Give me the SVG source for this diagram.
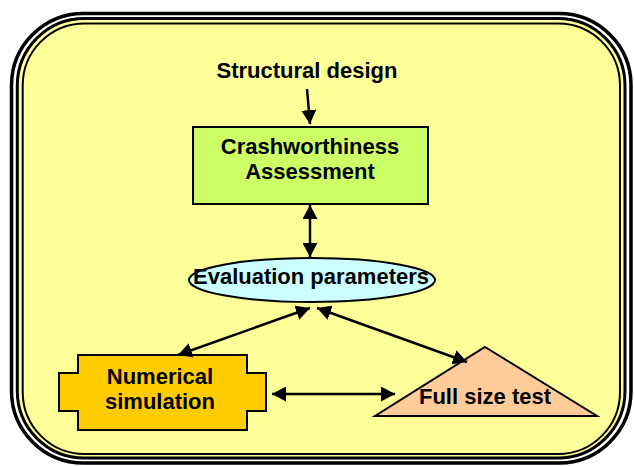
<svg xmlns="http://www.w3.org/2000/svg" width="634" height="466" viewBox="0 0 634 466">
<defs>
<style>
.t{font-family:"Liberation Sans",Arial,sans-serif;font-weight:bold;font-size:22px;fill:#000;text-anchor:middle}
.c{stroke:#000;stroke-width:2.5;fill:none}
.n{stroke:#000;stroke-width:2}
</style>
<marker id="ah" viewBox="0 0 14 15" refX="14" refY="7.5" markerWidth="14" markerHeight="15" markerUnits="userSpaceOnUse" orient="auto-start-reverse">
<path d="M0,0 L14,7.5 L0,15 z" fill="#000"/>
</marker>
</defs>
<rect width="634" height="466" fill="#fff"/>
<g id="frame">
<rect x="11.5" y="13.5" width="619.5" height="449.5" rx="72" fill="#fff" stroke="#000" stroke-width="3.5"/>
<rect x="17.3" y="18.5" width="607.7" height="439.5" rx="67" fill="#FFFF99" stroke="#000" stroke-width="3"/>
<rect x="22.7" y="23.5" width="597.3" height="430.5" rx="62" fill="none" stroke="#000" stroke-width="2"/>
</g>
<g id="structural-design">
<text class="t" x="307" y="78">Structural design</text>
</g>
<g id="crashworthiness">
<rect class="n" x="193" y="127" width="235" height="77" fill="#CCFF66"/>
<text class="t" x="310" y="154">Crashworthiness</text>
<text class="t" x="310" y="179">Assessment</text>
</g>
<g id="evaluation">
<ellipse class="n" cx="312" cy="280" rx="123" ry="22" fill="#CCFFFF"/>
<text class="t" x="311" y="284">Evaluation parameters</text>
</g>
<g id="numerical">
<path class="n" d="M78,355 H247 V373 H266 V411 H247 V430 H78 V411 H59 V373 H78 Z" fill="#FFCC00"/>
<text class="t" x="160" y="384">Numerical</text>
<text class="t" x="160" y="409">simulation</text>
</g>
<g id="fullsize">
<path class="n" d="M485,347 L597,416 L375,416 Z" fill="#FFCC99"/>
<text class="t" x="485" y="404">Full size test</text>
</g>
<g id="connectors">
<line class="c" x1="307" y1="89" x2="310" y2="124" marker-end="url(#ah)"/>
<line class="c" x1="310" y1="205" x2="310" y2="257" marker-start="url(#ah)" marker-end="url(#ah)"/>
<line class="c" x1="310" y1="308" x2="178" y2="355" marker-start="url(#ah)" marker-end="url(#ah)"/>
<line class="c" x1="317" y1="308" x2="467" y2="362" marker-start="url(#ah)" marker-end="url(#ah)"/>
<line class="c" x1="272" y1="394" x2="395" y2="394" marker-start="url(#ah)" marker-end="url(#ah)"/>
</g>
</svg>
